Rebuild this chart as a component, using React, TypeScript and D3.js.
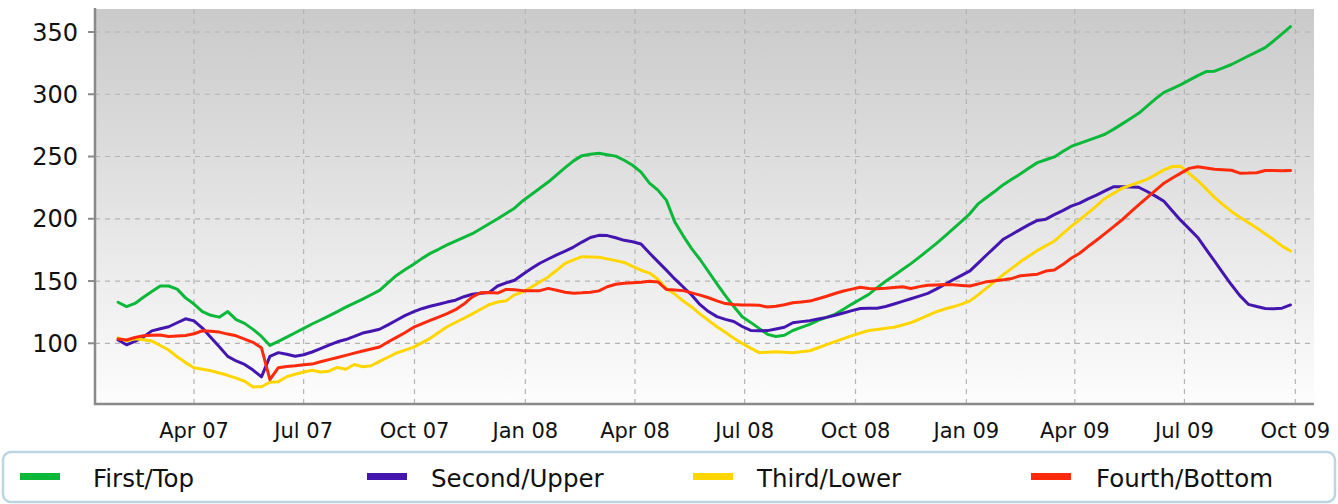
import { useMemo } from "react";
import * as d3 from "d3";

const WIDTH = 1338;
const HEIGHT = 504;
const PLOT = { left: 95, right: 1314, top: 9, bottom: 404 };
const FONT = "'DejaVu Sans', Verdana, sans-serif";

// weekly observations, first week ending Jan 28 2007
const FIRST_WEEK = new Date(2007, 0, 28);

const firstTop = [
  133, 129.5, 132, 137, 141.5, 146, 146, 143.5, 136.5, 131.5, 125.5, 122.5, 121, 125.5, 119, 116, 111.2, 105.5, 98.3, 101.5,
  105, 108.5, 112, 115.5, 118.7, 122, 125.5, 129, 132.3, 135.5, 139, 142.5, 148.5, 154.5, 159, 163.3, 168, 172.2, 175.5, 179,
  182, 185, 188, 192, 196, 200, 204.3, 208.5, 214.5, 219.5, 224.5, 229.5, 235.3, 241, 246.5, 250.7, 251.8, 252.6, 251.5, 250.3,
  247, 243, 237.5, 228.7, 223, 215, 197.5, 186.3, 176, 167.3, 157.5, 147.8, 138.3, 129.5, 121.3, 116.8, 112, 107.2, 105.5, 106.5,
  110.3, 112.8, 115.2, 118.4, 120.8, 123.3, 127.3, 131.5, 135.4, 139.3, 144.7, 149.8, 154.5, 159.2, 164, 169.2, 174.6, 180, 185.9, 191.9,
  197.9, 204.2, 212.2, 217.3, 222.3, 227.6, 231.9, 236.1, 240.7, 245.1, 247.4, 249.7, 254, 258.1, 260.6, 263, 265.4, 267.9, 271.8, 276,
  280.4, 284.7, 290.5, 296.3, 301.5, 304.6, 307.7, 311.3, 315, 318.2, 318.5, 321.2, 323.9, 327.3, 330.7, 334.1, 337.5, 342.8, 348.5, 354.3,
];

const secondUpper = [
  102.6, 98.8, 101.5, 105, 110, 111.7, 113.3, 116.5, 119.7, 118, 112.2, 104.6, 97.2, 89.5, 85.8, 83, 78.5, 73, 89.5, 92.5,
  91.2, 89.6, 90.8, 93, 95.7, 98.5, 101.2, 103, 105.5, 108.2, 109.7, 111.3, 114.8, 118.5, 122.2, 125.2, 127.8, 129.7, 131.4, 133.1,
  134.6, 137.4, 139.4, 140.1, 140.9, 146, 148.5, 150.6, 155.5, 160, 164.3, 167.7, 171, 174, 177.3, 181.3, 185, 186.7, 186.5, 184.8,
  182.7, 181.5, 179.8, 172.5, 165.6, 158.8, 151.7, 145.2, 138.8, 131, 125.5, 121.4, 119.2, 117.5, 113.5, 110.3, 110.1, 110.2, 111.5, 112.9,
  116.5, 117.4, 118.2, 119.5, 120.8, 122.5, 124.3, 126.2, 128, 128.1, 128.1, 129.6, 131.6, 133.7, 135.8, 137.9, 140.1, 143.5, 147.2, 151,
  154.6, 158.1, 164.6, 171.1, 177.4, 183.8, 187.6, 191.5, 195.3, 198.7, 199.7, 203.3, 206.5, 210.2, 212.6, 216, 219, 222.4, 225.7, 225.7,
  225.5, 225.3, 221.9, 218.2, 214, 206.2, 198.7, 191.9, 185, 175.4, 165.9, 156.4, 147, 138.3, 131.3, 129.5, 127.9, 127.8, 128.2, 130.8,
];

const thirdLower = [
  104.4, 102, 103.6, 102.8, 101.8, 98.2, 94.6, 89.2, 84.5, 80.4, 79.2, 78, 76.1, 74.3, 72, 69.5, 65, 65.1, 68.7, 69.2,
  73.1, 75.2, 77, 78.3, 77, 77.6, 80.6, 79.2, 83, 81.2, 82, 85.5, 88.8, 92.2, 94.5, 96.7, 100.3, 104, 108.6, 113.3,
  116.7, 120.1, 123.6, 127.3, 131.1, 133.2, 134.1, 138.9, 141.4, 145.2, 149.3, 153.3, 158.7, 164.2, 167, 169.6, 169.3, 169.1, 167.8, 166.4,
  164.9, 161.8, 158.7, 156.4, 151.5, 144, 139.5, 134, 129.2, 123.5, 118.4, 113.3, 108.8, 104, 99.9, 96.1, 92.5, 92.9, 93.3, 92.9,
  92.5, 93.2, 94, 96.4, 98.9, 101.3, 103.8, 106.2, 108.3, 110.3, 111.1, 112, 112.9, 114.7, 116.6, 119.3, 122.5, 125.3, 127.5, 129.3,
  131.5, 134.1, 139.1, 144.5, 150.1, 155.4, 160.4, 165.6, 170.1, 174.6, 178.3, 182.1, 188, 193.9, 199.1, 204.7, 210.4, 216.3, 220.3, 224.4,
  226.8, 229.3, 231.7, 235.5, 239.3, 242, 242.1, 236.2, 230.7, 224, 217.2, 211.4, 205.9, 201.3, 197, 192.5, 188, 183.1, 178, 174.1,
];

const fourthBottom = [
  103.5, 102.7, 104.7, 106, 106.4, 106.7, 105.5, 105.9, 106.3, 107.7, 110.1, 109.6, 109, 107.4, 106, 103.4, 100.8, 96.4, 70.8, 80.4,
  81.3, 81.9, 82.8, 83.3, 85.2, 86.9, 88.6, 90.3, 92.1, 93.8, 95.4, 97, 101, 104.8, 108.5, 112.7, 115.6, 118.4, 121.1, 123.9,
  127, 131.5, 137.3, 140.6, 140.7, 140.3, 143.3, 143, 142.3, 142.3, 142.3, 144.1, 142.6, 141, 140.2, 140.5, 141, 142.1, 145.4, 147.4,
  148.2, 148.6, 149.1, 149.9, 149.3, 143.3, 142.8, 142.3, 140.5, 138.7, 136.6, 134.1, 131.9, 131.1, 130.8, 130.8, 130.5, 129.1, 129.8, 130.9,
  132.5, 133.1, 133.9, 135.8, 137.8, 140, 142, 143.5, 145, 144, 143.8, 144.2, 144.8, 145.4, 144, 145.5, 146.6, 146.9, 147.3, 147,
  146.5, 146, 147.7, 149.5, 150.3, 151, 152.1, 154.3, 154.9, 155.5, 158, 158.8, 163.2, 168.3, 172.3, 177.7, 182.8, 188.1, 193.5, 199,
  205.1, 211.1, 217, 222.8, 228.6, 232.8, 236.7, 240.5, 241.8, 240.8, 239.8, 239.4, 239, 236.6, 236.7, 237, 238.8, 238.8, 238.5, 238.7,
];

const seriesNames = ["First/Top", "Second/Upper", "Third/Lower", "Fourth/Bottom"];
const seriesColors = ["#0cb83a", "#4416b0", "#ffd600", "#ff2a0c"];
const seriesValues = [firstTop, secondUpper, thirdLower, fourthBottom];

const yTicks = [100, 150, 200, 250, 300, 350];
const xTicks = [
  new Date(2007, 3, 1), new Date(2007, 6, 1), new Date(2007, 9, 1), new Date(2008, 0, 1),
  new Date(2008, 3, 1), new Date(2008, 6, 1), new Date(2008, 9, 1), new Date(2009, 0, 1),
  new Date(2009, 3, 1), new Date(2009, 6, 1), new Date(2009, 9, 1),
];
const legendSwatchX = [20, 367, 693, 1031];
const legendTextX = [93, 431, 757, 1096];

export default function App() {
  const dates = useMemo(
    () => firstTop.map((_, i) => d3.timeDay.offset(FIRST_WEEK, i * 7)),
    []
  );

  const xScale = d3
    .scaleTime()
    .domain([new Date(2007, 3, 1), new Date(2009, 9, 1)])
    .range([194, 1295.3]);
  const yScale = d3.scaleLinear().domain([100, 350]).range([343.3, 32]);

  const line = d3
    .line<number>()
    .x((_, i) => xScale(dates[i]))
    .y((d) => yScale(d));

  const fmt = d3.timeFormat("%b %y");

  return (
    <svg
      width={WIDTH}
      height={HEIGHT}
      style={{ position: "absolute", left: 0, top: 0, fontFamily: FONT }}
    >
      <defs>
        <linearGradient id="plotBg" x1="0" y1="0" x2="0" y2="1">
          <stop offset="0%" stopColor="#cacaca" />
          <stop offset="100%" stopColor="#fdfdfd" />
        </linearGradient>
        <clipPath id="plotClip">
          <rect x={PLOT.left} y={PLOT.top} width={PLOT.right - PLOT.left} height={PLOT.bottom - PLOT.top} />
        </clipPath>
      </defs>

      <rect
        x={PLOT.left}
        y={PLOT.top}
        width={PLOT.right - PLOT.left}
        height={PLOT.bottom - PLOT.top}
        fill="url(#plotBg)"
      />

      {/* grid */}
      {yTicks.map((t) => (
        <line
          key={"gy" + t}
          x1={PLOT.left}
          x2={PLOT.right}
          y1={yScale(t)}
          y2={yScale(t)}
          stroke="#b4b4b4"
          strokeWidth={1.2}
          strokeDasharray="5,5"
        />
      ))}
      {xTicks.map((t, i) => (
        <line
          key={"gx" + i}
          x1={xScale(t)}
          x2={xScale(t)}
          y1={PLOT.top}
          y2={PLOT.bottom}
          stroke="#b4b4b4"
          strokeWidth={1.2}
          strokeDasharray="5,5"
        />
      ))}

      {/* series */}
      <g clipPath="url(#plotClip)">
        {seriesValues.map((vals, i) => (
          <path
            key={seriesNames[i]}
            d={line(vals) || ""}
            fill="none"
            stroke={seriesColors[i]}
            strokeWidth={3}
            strokeLinejoin="round"
            strokeLinecap="round"
          />
        ))}
      </g>

      {/* axes */}
      <line x1={PLOT.left} x2={PLOT.left} y1={PLOT.top - 1} y2={PLOT.bottom + 1} stroke="#8a8a8a" strokeWidth={2.5} />
      <line x1={PLOT.left - 1} x2={PLOT.right} y1={PLOT.bottom} y2={PLOT.bottom} stroke="#8a8a8a" strokeWidth={2.5} />
      {yTicks.map((t) => (
        <g key={"ty" + t}>
          <line x1={88} x2={PLOT.left} y1={yScale(t)} y2={yScale(t)} stroke="#8a8a8a" strokeWidth={2} />
          <text x={78} y={yScale(t)} dy="0.36em" textAnchor="end" fontSize={24} fill="#111">
            {t}
          </text>
        </g>
      ))}
      {xTicks.map((t, i) => (
        <text key={"tx" + i} x={xScale(t)} y={438} textAnchor="middle" fontSize={21} fill="#111">
          {fmt(t)}
        </text>
      ))}

      {/* legend */}
      <rect x={3} y={452} width={1332} height={50} rx={8} ry={8} fill="#fff" stroke="#bcd5e2" strokeWidth={2.5} />
      {seriesNames.map((name, i) => (
        <g key={"lg" + name}>
          <rect x={legendSwatchX[i]} y={473} width={40} height={7} fill={seriesColors[i]} />
          <text x={legendTextX[i]} y={487} fontSize={24.5} fill="#111">
            {name}
          </text>
        </g>
      ))}
    </svg>
  );
}
